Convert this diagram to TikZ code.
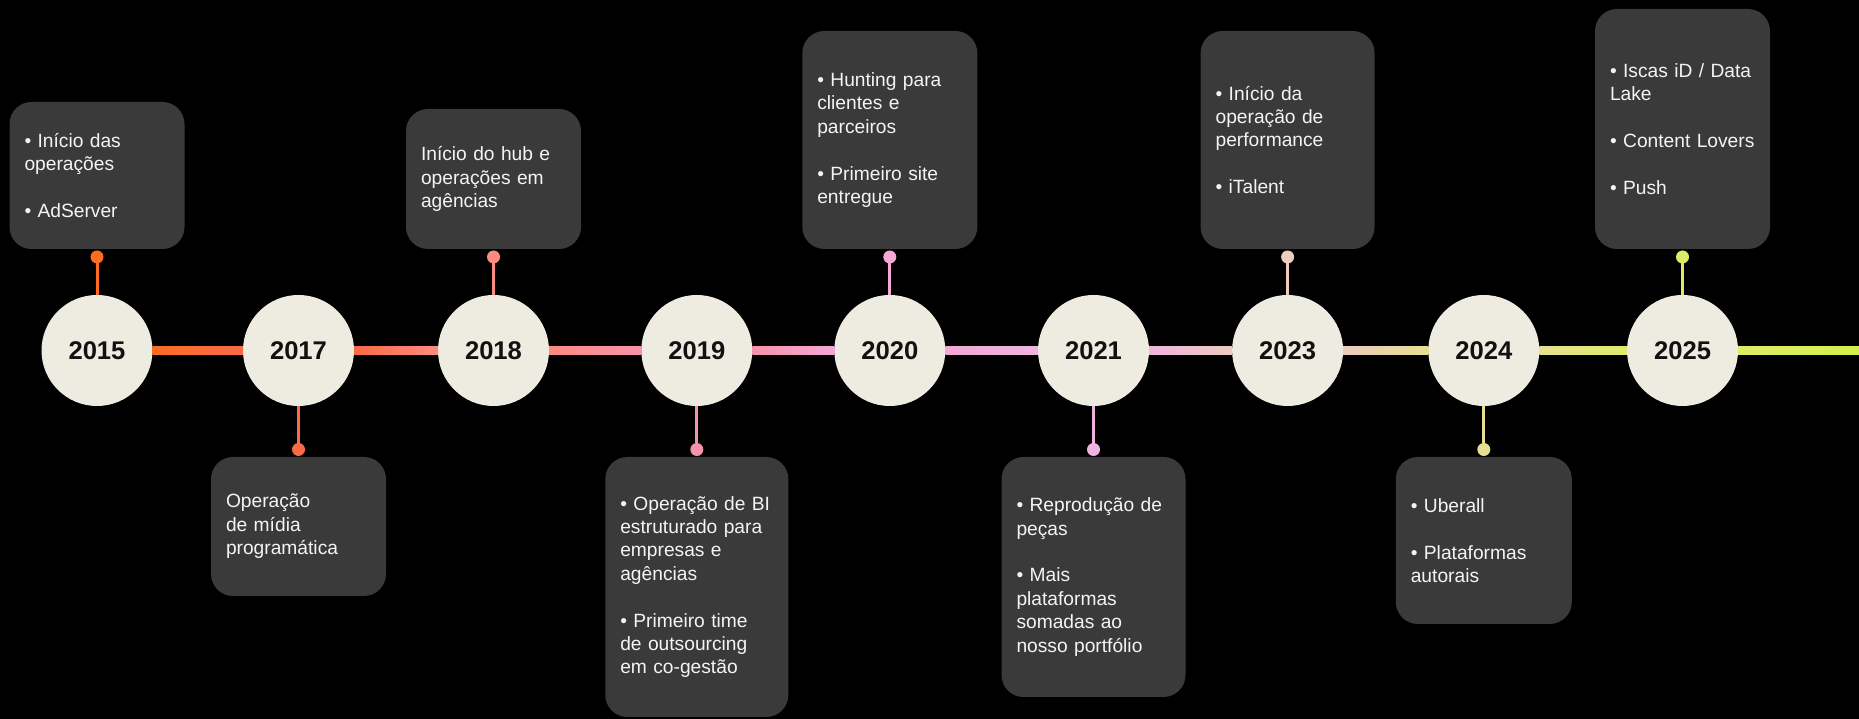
\documentclass[tikz,border=0pt]{standalone}
\usepackage{fontspec}
\setmainfont{Liberation Sans}
\usetikzlibrary{positioning}
\definecolor{cream}{HTML}{EEECE1}
\definecolor{cardgray}{HTML}{3A3A3A}
\definecolor{ink}{HTML}{111111}
\definecolor{paper}{HTML}{F4F4F4}
\definecolor{c1}{HTML}{FF6B22}
\definecolor{c2}{HTML}{FA6A47}
\definecolor{c3}{HTML}{FD8A80}
\definecolor{c4}{HTML}{F693AC}
\definecolor{c5}{HTML}{F3A8D5}
\definecolor{c6}{HTML}{EFB4E0}
\definecolor{c7}{HTML}{EDCBBF}
\definecolor{c8}{HTML}{E6DF8F}
\definecolor{c9}{HTML}{DDEB6A}
\definecolor{tailc}{HTML}{D6EF48}
\tikzstyle{year} = [circle, minimum size=111pt, inner sep=0pt, outer sep=0pt, fill=cream, text=ink, font=\fontsize{25.6pt}{30pt}\selectfont\bfseries]
\tikzstyle{card} = [rectangle, rounded corners=22pt, fill=cardgray, text=paper, align=left, inner xsep=15pt, inner ysep=0pt, outer sep=0pt, font=\fontsize{19.2pt}{23.4pt}\selectfont]
\tikzstyle{pin} = [circle, minimum size=13pt, inner sep=0pt, outer sep=0pt]
\tikzstyle{stem} = [line width=3pt]
\newcommand{\cardgap}{\\[23.4pt]}

\begin{document}
\begin{tikzpicture}[x=1pt, y=1pt]
    \fill[black] (0,0) rectangle (1859,719);
    \useasboundingbox (0,0) rectangle (1859,719);
    % years
    \node (yr1) [year] at (97,368.5) {2015};
    \node (yr2) [year, right=90.5pt of yr1] {2017};
    \node (yr3) [year, right=84pt of yr2] {2018};
    \node (yr4) [year, right=92.3pt of yr3] {2019};
    \node (yr5) [year, right=82pt of yr4] {2020};
    \node (yr6) [year, right=92.7pt of yr5] {2021};
    \node (yr7) [year, right=83.1pt of yr6] {2023};
    \node (yr8) [year, right=85.2pt of yr7] {2024};
    \node (yr9) [year, right=87.7pt of yr8] {2025};
    \coordinate (tail) at (1859,368.5);
    % line
    \foreach \a/\b in {1/2,2/3,3/4,4/5,5/6,6/7,7/8,8/9}
        \shade[left color=c\a, right color=c\b] ([yshift=-4pt]yr\a.east) rectangle ([yshift=4pt]yr\b.west);
    \shade[left color=c9, right color=tailc] ([yshift=-4pt]yr9.east) rectangle ([yshift=4pt]tail);
    % pins
    \node (pin1) [pin, fill=c1, above=31.5pt of yr1] {};
    \node (pin2) [pin, fill=c2, below=37pt of yr2] {};
    \node (pin3) [pin, fill=c3, above=31.5pt of yr3] {};
    \node (pin4) [pin, fill=c4, below=37pt of yr4] {};
    \node (pin5) [pin, fill=c5, above=31.5pt of yr5] {};
    \node (pin6) [pin, fill=c6, below=37pt of yr6] {};
    \node (pin7) [pin, fill=c7, above=31.5pt of yr7] {};
    \node (pin8) [pin, fill=c8, below=37pt of yr8] {};
    \node (pin9) [pin, fill=c9, above=31.5pt of yr9] {};
    \foreach \i in {1,...,9}
        \draw[stem, c\i] (yr\i) -- (pin\i);
    % cards
    \node (card1) [card, text width=145pt, minimum height=147pt, above=46pt of yr1]{• Início das\\operações\cardgap• AdServer};
    \node (card2) [card, text width=145pt, minimum height=139pt, below=51pt of yr2]{Operação\\de mídia\\programática};
    \node (card3) [card, text width=145pt, minimum height=140pt, above=46pt of yr3]{Início do hub e\\operações em\\agências};
    \node (card4) [card, text width=153pt, minimum height=260pt, below=51pt of yr4]{• Operação de BI\\estruturado para\\empresas e\\agências\cardgap• Primeiro time\\de outsourcing\\em co-gestão};
    \node (card5) [card, text width=145pt, minimum height=218pt, above=46pt of yr5]{• Hunting para\\clientes e\\parceiros\cardgap• Primeiro site\\entregue};
    \node (card6) [card, text width=154pt, minimum height=240pt, below=51pt of yr6]{• Reprodução de\\peças\cardgap• Mais\\plataformas\\somadas ao\\nosso portfólio};
    \node (card7) [card, text width=144pt, minimum height=218pt, above=46pt of yr7]{• Início da\\operação de\\performance\cardgap• iTalent};
    \node (card8) [card, text width=146pt, minimum height=167pt, below=51pt of yr8]{• Uberall\cardgap• Plataformas\\autorais};
    \node (card9) [card, text width=145pt, minimum height=240pt, above=46pt of yr9]{• Iscas iD / Data\\Lake\cardgap• Content Lovers\cardgap• Push};
\end{tikzpicture}
\end{document}
